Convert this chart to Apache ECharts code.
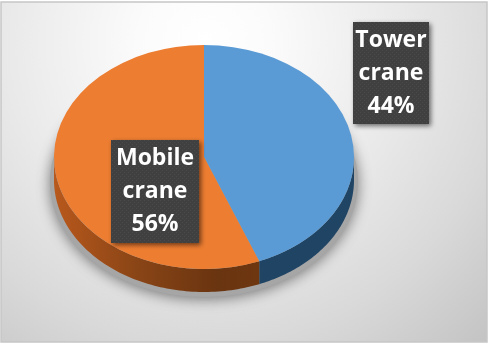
<!DOCTYPE html>
<html>
<head>
<meta charset="utf-8">
<style>html,body{margin:0;padding:0;background:#fff}#chart{width:490px;height:349px}</style>
<script src="https://cdn.jsdelivr.net/npm/echarts@6/dist/echarts.min.js"></script>
</head>
<body>
<div id="chart"></div>
<script>
// Crane types and their share of the total, in percent
const categories = ['Tower crane', 'Mobile crane'];
const shares = [44, 56];
const faceColors = ['#5b9bd5', '#ed7d31'];

// Pie geometry: a tilted disc, drawn as a scaled circle with a visible rim
const CX = 204, CY = 157, RX = 150, RY = 112, DEPTH = 23;
const TILT = RY / RX;
const TOTAL = shares.reduce((a, b) => a + b, 0);

// Boxes of the two data labels
const labelBoxes = [
  { x: 353, y: 22, width: 76, height: 102 },
  { x: 111, y: 140, width: 88, height: 103 }
];

const rimFills = [
  '#1f4464',
  { type: 'linear', x: 0, y: 0, x2: 1, y2: 0, colorStops: [
    { offset: 0, color: '#b8581c' }, { offset: 0.4, color: '#8a4516' }, { offset: 0.8, color: '#693410' }, { offset: 1, color: '#6e3710' }
  ] }
];

// Dot texture used on the label boxes
function dotTexture() {
  const c = document.createElement('canvas');
  c.width = c.height = 4;
  const g = c.getContext('2d');
  g.fillStyle = '#404040';
  g.fillRect(0, 0, 4, 4);
  g.fillStyle = '#4a4a4a';
  g.fillRect(0, 0, 1, 1);
  g.fillRect(2, 2, 1, 1);
  return c;
}
const texture = dotTexture();

// Angle of a slice boundary, measured clockwise from twelve o'clock
function boundaries(i) {
  const before = shares.slice(0, i).reduce((a, b) => a + b, 0);
  return [before / TOTAL * 2 * Math.PI, (before + shares[i]) / TOTAL * 2 * Math.PI];
}
const px = a => CX + RX * Math.sin(a);
const py = a => CY - RY * Math.cos(a);

// Outline of the part of a slice's rim that faces the viewer
function rimPoints(a0, a1) {
  const from = Math.max(a0, Math.PI / 2), to = Math.min(a1, 3 * Math.PI / 2);
  if (to <= from) return null;
  const top = [], bottom = [];
  const steps = 90;
  for (let k = 0; k <= steps; k++) {
    const a = from + (to - from) * k / steps;
    top.push([px(a), py(a)]);
    bottom.unshift([px(a), py(a) + DEPTH]);
  }
  return top.concat(bottom);
}

function renderSlice(params, api) {
  const i = params.dataIndex;
  const [a0, a1] = boundaries(i);
  const children = [];
  if (i === 0) {
    // soft shadow cast by the whole disc
    children.push({
      type: 'ellipse',
      shape: { cx: CX, cy: CY + DEPTH + 2, rx: RX + 4, ry: RY + 3 },
      style: { fill: '#a6a6a6', shadowBlur: 14, shadowColor: 'rgba(90,90,90,0.8)', shadowOffsetX: 0, shadowOffsetY: 2 },
      silent: true
    });
  }
  const rim = rimPoints(a0, a1);
  if (rim) {
    children.push({ type: 'polygon', shape: { points: rim }, style: { fill: rimFills[i] } });
  }
  children.push({
    type: 'group',
    x: CX, y: CY, scaleY: TILT,
    children: [{
      type: 'sector',
      shape: {
        cx: 0, cy: 0, r0: 0, r: RX,
        startAngle: a0 - Math.PI / 2,
        endAngle: a1 - Math.PI / 2,
        clockwise: true
      },
      style: { fill: faceColors[i] }
    }]
  });
  return { type: 'group', children };
}

function renderLabel(params, api) {
  const i = params.dataIndex;
  const box = labelBoxes[i];
  const words = categories[i].split(' ');
  const text = words.join('\n') + '\n' + api.value(1) + '%';
  return {
    type: 'rect',
    shape: box,
    z2: 10,
    style: {
      fill: { image: texture, repeat: 'repeat' },
      shadowBlur: 5, shadowColor: 'rgba(0,0,0,0.55)', shadowOffsetX: 2, shadowOffsetY: 2
    },
    textContent: {
      type: 'text',
      style: {
        text,
        fill: '#fff',
        fontFamily: '"Open Sans", Lato, sans-serif',
        fontWeight: 700,
        fontSize: 23,
        lineHeight: 33,
        align: 'center',
        verticalAlign: 'middle'
      }
    },
    textConfig: { position: 'inside' }
  };
}

const chart = echarts.init(document.getElementById('chart'), null, { renderer: 'canvas' });
chart.setOption({
  animation: false,
  graphic: [
    {
      type: 'rect', z: -10, silent: true,
      shape: { x: 1, y: 2, width: 486, height: 340 },
      style: {
        fill: {
          type: 'radial', x: 0.42, y: 0.12, r: 1.3,
          colorStops: [
            { offset: 0, color: '#ffffff' },
            { offset: 0.15, color: '#fbfbfb' },
            { offset: 0.45, color: '#e9e9e9' },
            { offset: 0.68, color: '#d9d9d9' },
            { offset: 1, color: '#bdbdbd' }
          ]
        },
        stroke: '#c6c6c6', lineWidth: 1.5
      }
    }
  ],
  series: [
    {
      type: 'custom',
      coordinateSystem: 'none',
      silent: true,
      data: categories.map((name, i) => ({ name, value: [i, shares[i]] })),
      renderItem: renderSlice
    },
    {
      type: 'custom',
      coordinateSystem: 'none',
      silent: true,
      z: 5,
      data: categories.map((name, i) => ({ name, value: [i, shares[i]] })),
      renderItem: renderLabel
    }
  ]
});
</script>
</body>
</html>
